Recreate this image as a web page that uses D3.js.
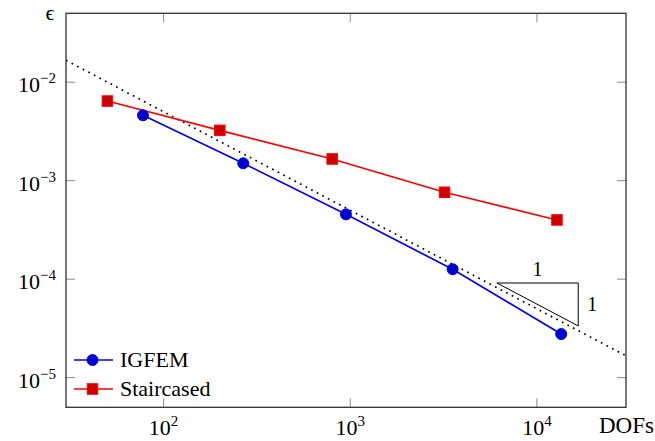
<!DOCTYPE html>
<html><head><meta charset="utf-8">
<script src="https://cdn.jsdelivr.net/npm/d3@7"></script>
<style>body{margin:0;background:#fff}svg{display:block}</style>
</head><body>
<script>
const igfemDofs = [77.5, 267, 948, 3534, 13490];
const igfemErr  = [4.61e-3, 1.50e-3, 4.55e-4, 1.26e-4, 2.77e-5];
const stairDofs = [50, 200, 800, 3200, 12800];
const stairErr  = [6.43e-3, 3.24e-3, 1.66e-3, 7.62e-4, 3.99e-4];
const refC = 0.5;            // reference line eps = C / DOFs
const xTickVals = [1e2, 1e3, 1e4];
const xTickExp  = ["2", "3", "4"];
const yTickVals = [1e-2, 1e-3, 1e-4, 1e-5];
const yTickExp  = ["−2", "−3", "−4", "−5"];
const seriesNames = ["IGFEM", "Staircased"];
const triX = [6100, 16640];  // slope triangle x-extent
const triTop = 9.14e-5;

const FONT = "Liberation Serif";
const W = 655, H = 441;
const L = 66, R = 626, T = 13.3, B = 407.3;
const svg = d3.select("body").append("svg").attr("width", W).attr("height", H);
const x = d3.scaleLog().domain([30, 30000]).range([L, R]);
const y = d3.scaleLog().domain([5e-6, 0.05]).range([B, T]);
const txt = (sel) => sel.append("text").attr("font-family", FONT);

svg.append("defs").append("clipPath").attr("id", "clip")
  .append("rect").attr("x", L).attr("y", T).attr("width", R - L).attr("height", B - T);

// ticks
const tickLen = 9, tickCol = "#8a8a8a";
const tg = svg.append("g").attr("stroke", tickCol).attr("stroke-width", 1);
xTickVals.forEach(v => {
  tg.append("line").attr("x1", x(v)).attr("x2", x(v)).attr("y1", B).attr("y2", B - tickLen);
  tg.append("line").attr("x1", x(v)).attr("x2", x(v)).attr("y1", T).attr("y2", T + tickLen);
});
yTickVals.forEach(v => {
  tg.append("line").attr("x1", L).attr("x2", L + tickLen).attr("y1", y(v)).attr("y2", y(v));
  tg.append("line").attr("x1", R).attr("x2", R - tickLen).attr("y1", y(v)).attr("y2", y(v));
});

// tick labels
xTickVals.forEach((v, i) => {
  const t = txt(svg).attr("x", x(v)).attr("y", 435).attr("text-anchor", "middle").attr("font-size", 22);
  t.append("tspan").text("10");
  t.append("tspan").attr("dy", -9).attr("font-size", 15).text(xTickExp[i]);
});
yTickVals.forEach((v, i) => {
  const t = txt(svg).attr("x", 56).attr("y", y(v) + 10).attr("text-anchor", "end").attr("font-size", 22);
  t.append("tspan").text("10");
  t.append("tspan").attr("dy", -9).attr("font-size", 15).text(yTickExp[i]);
});
txt(svg).attr("x", 50).attr("y", 20).attr("text-anchor", "middle").attr("font-size", 22).text("ϵ");
txt(svg).attr("x", 599).attr("y", 433).attr("font-size", 23).text("DOFs");

const plot = svg.append("g").attr("clip-path", "url(#clip)");
// reference dotted line
const refX = [30, 30000];
plot.append("path")
  .attr("d", d3.line().x(d => x(d)).y(d => y(refC / d))(refX))
  .attr("fill", "none").attr("stroke", "#000").attr("stroke-width", 1.7)
  .attr("stroke-dasharray", "1.7 4.6");

// slope triangle
const triBot = triTop * triX[0] / triX[1];
svg.append("path")
  .attr("d", `M${x(triX[0])},${y(triTop)}L${x(triX[1])},${y(triTop)}L${x(triX[1])},${y(triBot)}Z`)
  .attr("fill", "none").attr("stroke", "#000").attr("stroke-width", 1);
txt(svg).attr("x", (x(triX[0]) + x(triX[1])) / 2).attr("y", y(triTop) - 7)
  .attr("text-anchor", "middle").attr("font-size", 20).text("1");
txt(svg).attr("x", x(triX[1]) + 9).attr("y", (y(triTop) + y(triBot)) / 2 + 7)
  .attr("font-size", 20).text("1");

const line = d3.line().x(d => x(d[0])).y(d => y(d[1]));
const blue = igfemDofs.map((d, i) => [d, igfemErr[i]]);
const red = stairDofs.map((d, i) => [d, stairErr[i]]);
plot.append("path").attr("d", line(red)).attr("fill", "none").attr("stroke", "#ff0000").attr("stroke-width", 1.7);
plot.append("path").attr("d", line(blue)).attr("fill", "none").attr("stroke", "#0000ff").attr("stroke-width", 1.7);
const s = 10.5;
plot.selectAll(".sq").data(red).join("rect")
  .attr("x", d => x(d[0]) - s / 2).attr("y", d => y(d[1]) - s / 2).attr("width", s).attr("height", s)
  .attr("fill", "#cc0000").attr("stroke", "#ff0000").attr("stroke-width", 1);
plot.selectAll(".ci").data(blue).join("circle")
  .attr("cx", d => x(d[0])).attr("cy", d => y(d[1])).attr("r", 5.5)
  .attr("fill", "#0000cc").attr("stroke", "#0000ff").attr("stroke-width", 1);

// frame
svg.append("rect").attr("x", L).attr("y", T).attr("width", R - L).attr("height", B - T)
  .attr("fill", "none").attr("stroke", "#303030").attr("stroke-width", 1.3);

// legend
const lg = svg.append("g");
[0, 1].forEach(i => {
  const ly = 360 + i * 29;
  const col = i === 0 ? "#0000ff" : "#ff0000";
  lg.append("line").attr("x1", 74).attr("x2", 113).attr("y1", ly).attr("y2", ly).attr("stroke", col).attr("stroke-width", 1.7);
  if (i === 0) lg.append("circle").attr("cx", 92.5).attr("cy", ly).attr("r", 5.5).attr("fill", "#0000cc").attr("stroke", col);
  else lg.append("rect").attr("x", 92.5 - s / 2).attr("y", ly - s / 2).attr("width", s).attr("height", s).attr("fill", "#cc0000").attr("stroke", col);
  txt(lg).attr("x", 120).attr("y", ly + 7).attr("font-size", 22).text(seriesNames[i]);
});
</script>
</body></html>
